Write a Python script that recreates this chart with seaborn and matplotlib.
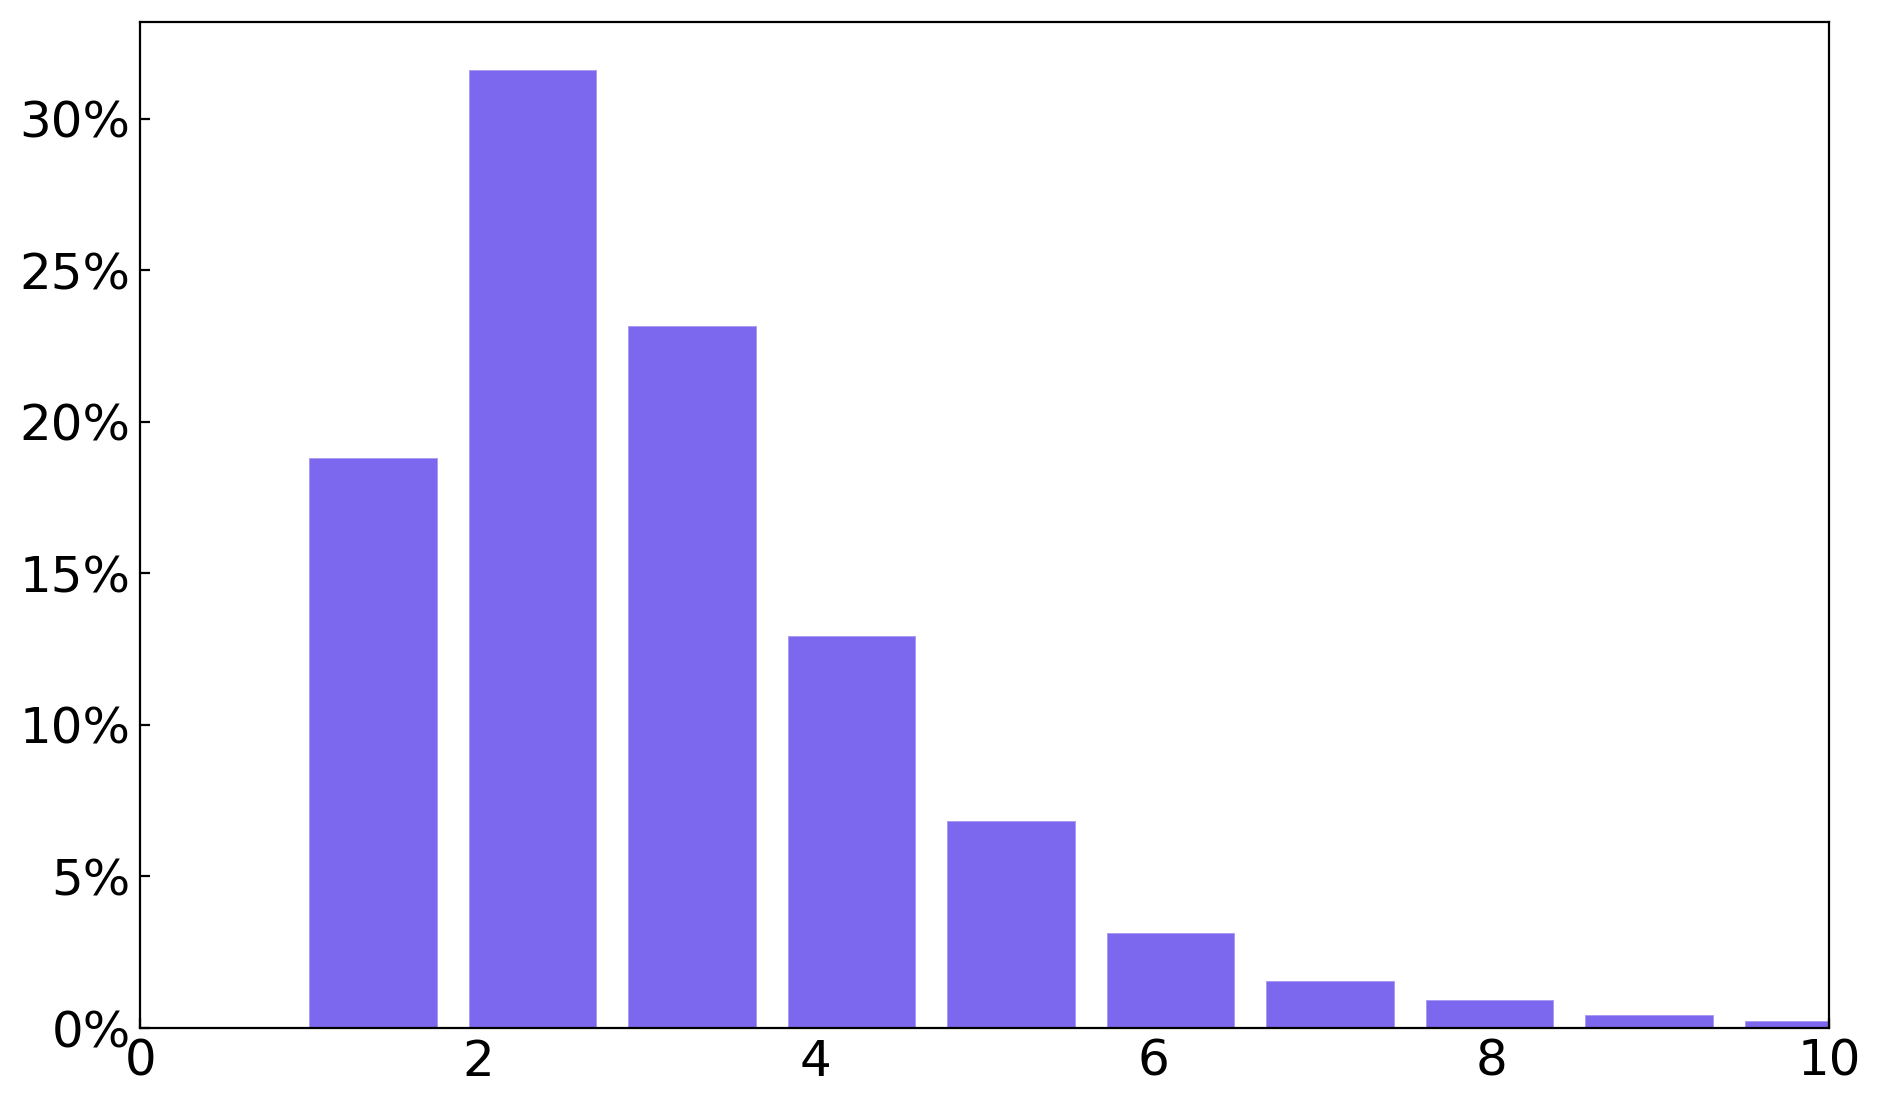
import matplotlib
matplotlib.use("Agg")
import matplotlib.pyplot as plt
import seaborn as sns
from matplotlib.ticker import PercentFormatter

# histogram bins (edges) and share of observations per bin, in percent
bin_edges = [0.906, 1.850, 2.795, 3.739, 4.684, 5.628, 6.573, 7.517, 8.462, 9.406, 10.351]
bin_share = [18.8, 31.62, 23.15, 12.92, 6.82, 3.13, 1.56, 0.93, 0.43, 0.22]
bin_centers = [(a + b) / 2 for a, b in zip(bin_edges[:-1], bin_edges[1:])]

x_ticks = [0, 2, 4, 6, 8, 10]
y_ticks = [0, 5, 10, 15, 20, 25, 30]

sns.set_style("ticks")
plt.rcParams["font.family"] = ["DejaVu Sans"]
plt.rcParams["xtick.direction"] = "in"
plt.rcParams["ytick.direction"] = "in"

fig = plt.figure(figsize=(9.415, 5.545), dpi=200)
ax = fig.add_axes([0.0746, 0.073, 0.8967, 0.9075])

sns.histplot(x=bin_centers, weights=bin_share, bins=bin_edges, shrink=0.8,
             color="#7B68EE", alpha=1, edgecolor="#a99cf2", linewidth=0.35, ax=ax)

ax.set_xlim(0, 10)
ax.set_xticks(x_ticks)
ax.set_yticks(y_ticks)
ax.yaxis.set_major_formatter(PercentFormatter(decimals=0))
ax.set_xlabel("")
ax.set_ylabel("")
ax.tick_params(labelsize=18, colors="black")
for s in ax.spines.values():
    s.set_color("black")
    s.set_visible(True)

fig.savefig("out.png", dpi=200)
plt.close(fig)
